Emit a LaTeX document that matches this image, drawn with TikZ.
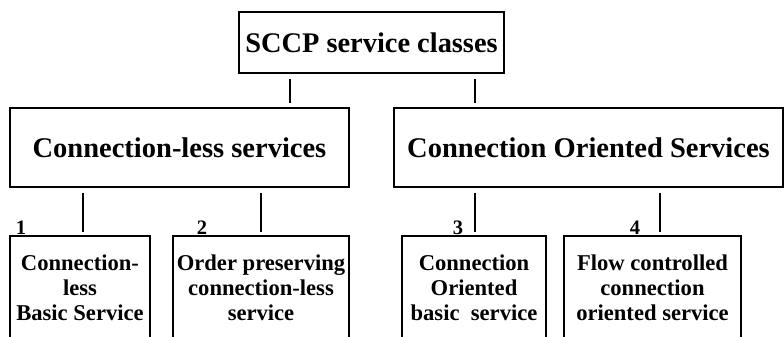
\documentclass[tikz,border=0pt]{standalone}
\usepackage{fontspec}
\setmainfont{Liberation Serif}
\begin{document}
\begin{tikzpicture}[x=1pt,y=-1pt,
  box/.style={draw,line width=1.6pt,inner sep=0pt,font=\bfseries},
  topbox/.style={box,minimum width=265pt,minimum height=61pt,font=\fontsize{28.4}{30}\selectfont\bfseries},
  midbox/.style={box,minimum height=79pt,font=\fontsize{28.5}{30}\selectfont\bfseries},
  leafbox/.style={box,minimum height=103pt,align=center,font=\fontsize{22.6}{25}\selectfont\bfseries},
  num/.style={anchor=base,inner sep=0pt,font=\fontsize{20.5}{22}\selectfont\bfseries},
  conn/.style={line width=1.6pt,shorten <=5pt,shorten >=4pt}]
\useasboundingbox (0,0) rectangle (784,337);
\clip (0,0) rectangle (784,337);
\node[topbox] (top) at (371.5,42.5) {SCCP service classes};
\node[midbox,minimum width=339pt] (cl) at (179.5,147.5) {Connection-less services};
\node[midbox,minimum width=389pt] (co) at (588.5,147.5) {Connection Oriented Services};
\node[leafbox,minimum width=140pt] (l1) at (80,287.5) {Connection-\\less\\Basic Service};
\node[leafbox,minimum width=176pt] (l2) at (261,287.5) {Order preserving\\connection-less\\service};
\node[leafbox,minimum width=144pt] (l3) at (474,287.5) {Connection\\Oriented\\basic\ \ service};
\node[leafbox,minimum width=177pt] (l4) at (652.5,287.5) {Flow controlled\\connection\\oriented service};
\node[num] (n1) at (21,234.5) {1};
\node[num] (n2) at (202,234.5) {2};
\node[num] (n3) at (458,234.5) {3};
\node[num] (n4) at (635,234.5) {4};
\draw[conn] (top.south -| 290,0) -- (cl.north -| 290,0);
\draw[conn] (top.south -| 475,0) -- (co.north -| 475,0);
\draw[conn,shorten >=3pt] (cl.south -| 83,0) -- (l1.north -| 83,0);
\draw[conn,shorten >=3pt] (cl.south -| 261,0) -- (l2.north -| 261,0);
\draw[conn,shorten >=3pt] (co.south -| 475,0) -- (l3.north -| 475,0);
\draw[conn,shorten >=3pt] (co.south -| 660,0) -- (l4.north -| 660,0);
\end{tikzpicture}
\end{document}
